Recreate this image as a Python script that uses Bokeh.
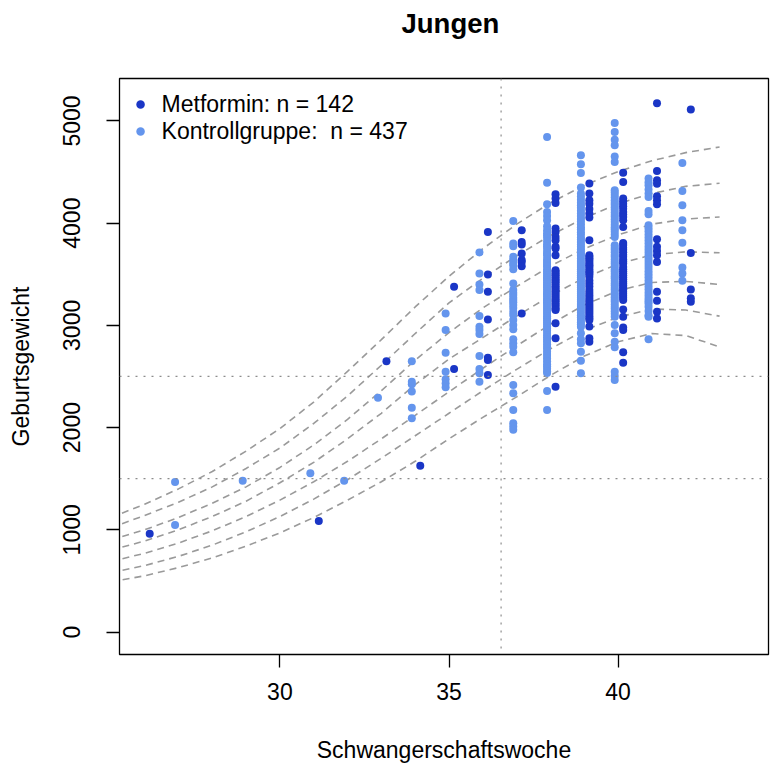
from bokeh.plotting import figure
from bokeh.models import ColumnDataSource, Range1d, FixedTicker, Label, Span, Title
from bokeh.transform import dodge
from bokeh.embed import file_html
from bokeh.resources import INLINE

FONT = "Liberation Sans"
DARK = "#1a36c6"
LIGHT = "#6495ed"

# ---------------- data (birth weight in g per gestational week) ----------------
# Kontrollgruppe
k27 = [1467, 1047]
k29 = [1479]
k31 = [1554]
k32 = [1479]
k33 = [2293]
k34 = [2648, 2449, 2424, 2352, 2195, 2092]
k35 = [3117, 2954, 2733, 2547, 2473, 2434, 2395]
k36 = [3713, 3508, 3400, 3345, 3091, 2986, 2954, 2915, 2700, 2573, 2531, 2449]
k37 = [4021, 3801, 3774, 3670, 3640, 3610, 3589, 3550, 3410, 3345, 3320, 3296, 3270,
       3247, 3225, 3198, 3169, 3133, 3101, 3052, 3003, 2961, 2863, 2824, 2791, 2736,
       2417, 2336, 2173, 2043, 2010, 1978]
k38 = [4842, 4396, 4184, 4110, 4070, 4028, 3970, 3930, 3900, 3880, 3855, 3820, 3790,
       3775, 3750, 3720, 3700, 3680, 3650, 3630, 3610, 3590, 3575, 3550, 3530, 3510,
       3490, 3470, 3455, 3440, 3420, 3400, 3385, 3370, 3350, 3330, 3310, 3300, 3280,
       3260, 3240, 3225, 3210, 3190, 3170, 3150, 3130, 3110, 3090, 3070, 3050, 3030,
       3010, 2990, 2970, 2950, 2925, 2900, 2880, 2860, 2840, 2815, 2790, 2770, 2745,
       2720, 2700, 2675, 2650, 2620, 2600, 2575, 2550, 2534, 2358, 2173]
k39 = [4663, 4575, 4490, 4348, 4289, 4260, 4230, 4200, 4175, 4150, 4120, 4095, 4070,
       4040, 4015, 3990, 3960, 3940, 3910, 3890, 3860, 3840, 3815, 3790, 3770, 3745,
       3720, 3700, 3680, 3655, 3630, 3610, 3590, 3570, 3550, 3530, 3510, 3490, 3470,
       3450, 3430, 3410, 3390, 3370, 3350, 3330, 3310, 3290, 3270, 3250, 3230, 3210,
       3190, 3170, 3150, 3125, 3100, 3080, 3055, 3030, 3010, 2986, 2922, 2863, 2824,
       2742, 2654, 2531]
k40 = [4979, 4891, 4816, 4761, 4653, 4598, 4321, 4300, 4275, 4250, 4225, 4200, 4180,
       4155, 4130, 4105, 4080, 4060, 4035, 4010, 3985, 3960, 3940, 3915, 3890, 3865,
       3784, 3760, 3740, 3715, 3690, 3670, 3645, 3620, 3600, 3575, 3550, 3530, 3505,
       3480, 3460, 3435, 3410, 3390, 3365, 3345, 3320, 3300, 3275, 3250, 3230, 3205,
       3180, 3160, 3135, 3110, 3084, 3003, 2922, 2840, 2785, 2547, 2505, 2466]
k41 = [4436, 4400, 4370, 4330, 4290, 4256, 4119, 4087, 3980, 3950, 3920, 3890, 3860,
       3830, 3800, 3770, 3740, 3710, 3680, 3650, 3620, 3590, 3560, 3530, 3500, 3470,
       3440, 3410, 3380, 3350, 3320, 3290, 3260, 3235, 3215, 3182, 3140, 3100, 3084, 2863]
k42 = [4588, 4314, 4175, 4028, 3931, 3807, 3566, 3508, 3436]

# Metformin
m26 = [962]
m31 = [1086]
m33 = [2648]
m34 = [1626]
m35 = [3377, 2573]
m36 = [3914, 3498, 3328, 3058, 2684, 2660, 2515]
m37 = [3930, 3816, 3790, 3702, 3640, 3621, 3579, 3117]
m38 = [4282, 4240, 4197, 3947, 3914, 3865, 3833, 3768, 3751, 3686, 3540, 3525, 3505,
       3490, 3470, 3450, 3435, 3420, 3400, 3380, 3365, 3345, 3330, 3310, 3290, 3270,
       3250, 3235, 3215, 3200, 3180, 3160, 3150, 3020, 2873, 2400]
m39 = [4387, 4289, 4224, 4190, 4139, 4094, 4055, 3833, 3686, 3670, 3655, 3640, 3620,
       3600, 3585, 3570, 3550, 3530, 3515, 3500, 3475, 3440, 3410, 3380, 3345, 3320,
       3295, 3270, 3247, 3230, 3210, 3190, 3170, 3150, 3130, 3110, 3090, 3070, 3052,
       2990, 2873, 2840]
m40 = [4492, 4402, 4240, 4215, 4190, 4165, 4140, 4110, 4085, 4060, 4028, 3963, 3806,
       3785, 3760, 3740, 3715, 3690, 3670, 3645, 3625, 3605, 3572, 3550, 3530, 3510,
       3490, 3470, 3450, 3430, 3410, 3390, 3370, 3350, 3330, 3310, 3290, 3270, 3247,
       3156, 3084, 2980, 2954, 2736, 2635]
m41 = [5174, 4510, 4419, 4386, 4263, 4224, 4185, 3843, 3768, 3727, 3686, 3621, 3328,
       3240, 3133, 3068]
m42 = [5112, 3709, 3352, 3264, 3231]

kontroll = {27: k27, 29: k29, 31: k31, 32: k32, 33: k33, 34: k34, 35: k35, 36: k36,
            37: k37, 38: k38, 39: k39, 40: k40, 41: k41, 42: k42}
metformin = {26: m26, 31: m31, 33: m33, 34: m34, 35: m35, 36: m36, 37: m37, 38: m38,
             39: m39, 40: m40, 41: m41, 42: m42}

# percentile reference curves
curve_weeks = [25, 26, 27, 28, 29, 30, 31, 32, 33, 34, 35, 36, 37, 38, 39, 40, 41, 42, 43]
p97 = [1120, 1250, 1400, 1570, 1770, 1990, 2250, 2550, 2860, 3180, 3480, 3750, 3990, 4200, 4370, 4505, 4610, 4690, 4745]
p90 = [1020, 1140, 1270, 1420, 1600, 1800, 2040, 2310, 2610, 2920, 3220, 3460, 3680, 3880, 4050, 4190, 4290, 4360, 4390]
p75 = [900, 1000, 1120, 1260, 1420, 1610, 1830, 2080, 2360, 2660, 2930, 3170, 3380, 3580, 3750, 3885, 3990, 4040, 4060]
p50 = [800, 890, 1000, 1130, 1280, 1460, 1660, 1890, 2140, 2420, 2670, 2880, 3090, 3290, 3465, 3600, 3690, 3720, 3710]
p25 = [690, 770, 870, 990, 1130, 1290, 1470, 1670, 1890, 2120, 2350, 2580, 2800, 3010, 3200, 3340, 3420, 3430, 3400]
p10 = [580, 650, 740, 850, 980, 1130, 1300, 1490, 1700, 1920, 2140, 2360, 2570, 2770, 2950, 3080, 3160, 3150, 3090]
p3 = [490, 550, 630, 725, 840, 970, 1120, 1290, 1470, 1670, 1890, 2100, 2300, 2510, 2700, 2840, 2920, 2900, 2790]

x_ticks = [30, 35, 40]
y_ticks = [0, 1000, 2000, 3000, 4000, 5000]
ref_week = 36.54
ref_weights = [1500, 2500]

n_met = 142
n_kon = 437

# ---------------- figure ----------------
p = figure(width=770, height=765, output_backend="svg", toolbar_location=None,
           title=None,
           x_range=Range1d(25.257, 44.447), y_range=Range1d(-220, 5415),
           min_border_left=119, min_border_right=2, min_border_top=78,
           min_border_bottom=110)
p.xgrid.visible = False
p.ygrid.visible = False
p.outline_line_color = "black"
p.outline_line_width = 1.3
p.border_fill_color = "white"
p.background_fill_color = "white"

# spacer panel between frame and title (keeps the title high above the frame)
p.add_layout(Title(text="\u00a0", text_font=FONT, text_font_size="8px",
                   standoff=28), "above")
p.add_layout(Title(text="Jungen", text_font=FONT, text_font_size="27.5px",
                   text_font_style="bold", text_color="black", align="left",
                   offset=282, standoff=2), "above")

for ax in (p.xaxis[0], p.yaxis[0]):
    ax.axis_line_color = None
    ax.major_tick_out = 13
    ax.major_tick_in = 0
    ax.minor_tick_line_color = None
    ax.major_tick_line_color = "black"
    ax.major_tick_line_width = 1.3
    ax.major_label_text_font = FONT
    ax.major_label_text_font_size = "23px"
    ax.major_label_text_color = "black"
    ax.axis_label_text_font = FONT
    ax.axis_label_text_font_size = "23px"
    ax.axis_label_text_font_style = "normal"
    ax.axis_label_text_color = "black"

p.xaxis.ticker = FixedTicker(ticks=x_ticks)
p.yaxis.ticker = FixedTicker(ticks=y_ticks)
p.yaxis.major_label_orientation = "vertical"
p.xaxis.axis_label = "Schwangerschaftswoche"
p.yaxis.axis_label = "Geburtsgewicht"
p.xaxis.major_label_standoff = 15
p.xaxis.axis_label_standoff = 34
p.yaxis.major_label_standoff = 26
p.yaxis.axis_label_standoff = 27

# reference lines
p.add_layout(Span(location=ref_week, dimension="height", line_color="#8c8c8c",
                  line_width=1.2, line_dash="2 6"))
for w in ref_weights:
    p.add_layout(Span(location=w, dimension="width", line_color="#8c8c8c",
                      line_width=1.2, line_dash="2 6"))

# percentile curves
for c in (p97, p90, p75, p50, p25, p10, p3):
    p.line(curve_weeks, c, line_color="#9a9a9a", line_width=1.6, line_dash="7 5")

# points
def flatten(d):
    wk, gw = [], []
    for k, vals in d.items():
        for v in vals:
            wk.append(k)
            gw.append(v)
    return dict(week=wk, weight=gw)

src_k = ColumnDataSource(flatten(kontroll))
src_m = ColumnDataSource(flatten(metformin))
p.scatter(dodge("week", -0.1), "weight", source=src_k, size=8,
          fill_color=LIGHT, line_color=None)
p.scatter(dodge("week", 0.15), "weight", source=src_m, size=8,
          fill_color=DARK, line_color=None)

# legend (no box)
p.scatter([25.88], [5161], size=8.5, fill_color=DARK, line_color=None)
p.scatter([25.88], [4897], size=8.5, fill_color=LIGHT, line_color=None)
p.add_layout(Label(x=26.5, y=5161, text="Metformin: n = %d" % n_met,
                   text_font=FONT, text_font_size="23px", text_baseline="middle",
                   text_align="left", text_color="black"))
p.add_layout(Label(x=26.5, y=4897, text="Kontrollgruppe:\u00a0 n = %d" % n_kon,
                   text_font=FONT, text_font_size="23px", text_baseline="middle",
                   text_align="left", text_color="black"))

open("out.html", "w").write(file_html(p, INLINE))
